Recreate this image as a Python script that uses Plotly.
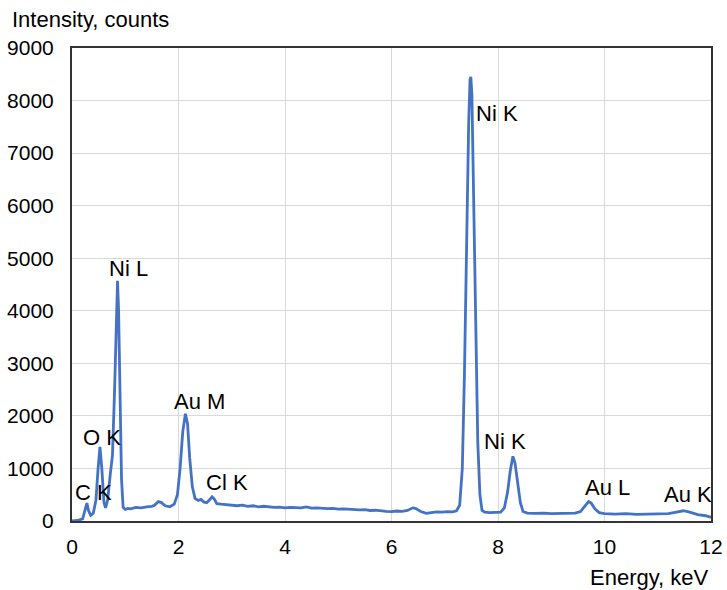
import plotly.graph_objects as go

energy = [0.00, 0.10, 0.20, 0.25, 0.28, 0.31, 0.35, 0.40, 0.45, 0.49, 0.525, 0.56, 0.60, 0.63, 0.67, 0.72, 0.76, 0.80, 0.83, 0.855, 0.875, 0.90, 0.93, 0.96,
          1.00, 1.05, 1.10, 1.20, 1.30, 1.40, 1.50, 1.55, 1.62, 1.68, 1.75, 1.84, 1.92, 1.98, 2.03, 2.08, 2.13, 2.17, 2.21, 2.26, 2.31, 2.37, 2.42, 2.48,
          2.53, 2.58, 2.63, 2.67, 2.72, 2.80, 2.90, 3.00, 3.10, 3.20, 3.30, 3.40, 3.50, 3.60, 3.70, 3.80, 3.90, 4.00, 4.10, 4.20, 4.30, 4.40, 4.45,
          4.50, 4.60, 4.70, 4.80, 4.90, 5.00, 5.10, 5.20, 5.30, 5.40, 5.50, 5.60, 5.70, 5.80, 5.90, 6.00, 6.10, 6.20, 6.30, 6.40, 6.45, 6.55, 6.65,
          6.75, 6.85, 6.95, 7.05, 7.15, 7.22, 7.28, 7.33, 7.37, 7.41, 7.45, 7.475, 7.49, 7.51, 7.54, 7.58, 7.62, 7.66, 7.70, 7.75, 7.85, 7.95, 8.05,
          8.12, 8.18, 8.23, 8.28, 8.32, 8.37, 8.42, 8.47, 8.55, 8.70, 8.85, 9.00, 9.15, 9.30, 9.45, 9.55, 9.62, 9.70, 9.75, 9.82, 9.90, 10.0, 10.2,
          10.4, 10.6, 10.8, 11.0, 11.2, 11.35, 11.48, 11.6, 11.75, 11.9, 12.0]
counts = [0, 10, 40, 200, 340, 200, 110, 150, 400, 1000, 1410, 1000, 350, 250, 400, 900, 1250, 2500, 4000, 4570, 4000, 2200, 800, 260,
          220, 240, 230, 260, 250, 270, 280, 300, 370, 350, 290, 270, 320, 500, 1000, 1700, 2040, 1850, 1200, 650, 430, 390, 410, 360,
          350, 400, 460, 420, 330, 320, 310, 300, 290, 300, 280, 290, 270, 280, 270, 260, 265, 250, 260, 255, 250, 270, 260,
          245, 250, 240, 235, 240, 225, 230, 220, 215, 210, 215, 200, 205, 190, 185, 180, 190, 185, 200, 250, 240, 180, 145,
          160, 175, 170, 180, 175, 195, 300, 1000, 2800, 5500, 7600, 8400, 8450, 8100, 6500, 4000, 1500, 500, 200, 170, 160, 165, 170,
          250, 550, 950, 1230, 1100, 700, 350, 180, 150, 145, 150, 140, 145, 140, 150, 180, 280, 370, 340, 230, 160, 140, 130,
          140, 125, 130, 140, 140, 170, 195, 170, 120, 100, 70]

peak_labels = ["C K", "O K", "Ni L", "Au M", "Cl K", "Ni K", "Ni K", "Au L", "Au K"]
label_x = [0.41, 0.56, 1.07, 2.40, 2.91, 7.98, 8.13, 10.05, 11.57]
label_y = [550, 1590, 4800, 2280, 740, 7760, 1520, 630, 510]

x_ticks = [0, 2, 4, 6, 8, 10, 12]
y_ticks = [0, 1000, 2000, 3000, 4000, 5000, 6000, 7000, 8000, 9000]

FONT = "Liberation Sans, Arial, sans-serif"
FS = 22
TFS = 21

W, H = 727, 590
ml, mr, mt, mb = 72, 16, 48, 69
pw, ph = W - ml - mr, H - mt - mb

fig = go.Figure()
fig.add_trace(go.Scatter(x=energy, y=counts, mode="lines",
                         line=dict(color="#4472C4", width=2.8), showlegend=False))

for t, xx, yy in zip(peak_labels, label_x, label_y):
    fig.add_annotation(x=xx, y=yy, xref="x", yref="y", text=t, showarrow=False,
                       font=dict(size=FS, color="black", family=FONT))

# axis titles placed at pixel positions (converted to paper coords)
fig.add_annotation(x=(10 - ml) / pw, y=(H - mb - 20) / ph, xref="paper", yref="paper",
                   xanchor="left", yanchor="middle", text="Intensity, counts", showarrow=False,
                   font=dict(size=FS, color="black", family=FONT))
fig.add_annotation(x=(711 - ml) / pw, y=(H - mb - 577) / ph, xref="paper", yref="paper",
                   xanchor="right", yanchor="middle", text="Energy, keV", showarrow=False,
                   font=dict(size=FS, color="black", family=FONT))

fig.update_layout(
    width=W, height=H,
    margin=dict(l=ml, r=mr, t=mt, b=mb, autoexpand=False),
    paper_bgcolor="white", plot_bgcolor="white",
    font=dict(family=FONT, size=TFS, color="black"),
    xaxis=dict(range=[0, 12], tickvals=x_ticks, showgrid=True, gridcolor="#d9d9d9", gridwidth=1,
               showline=True, linecolor="#333333", linewidth=2, mirror=True, zeroline=False,
               ticks="", ticklabelstandoff=6, automargin=False),
    yaxis=dict(range=[0, 9000], tickvals=y_ticks, showgrid=True, gridcolor="#d9d9d9", gridwidth=1,
               showline=True, linecolor="#333333", linewidth=2, mirror=True, zeroline=False,
               ticks="", ticklabelstandoff=12, automargin=False),
)

fig.write_html("out.html", config={"displayModeBar": False},
               post_script="document.body.style.margin='0';document.body.style.overflow='hidden';")
